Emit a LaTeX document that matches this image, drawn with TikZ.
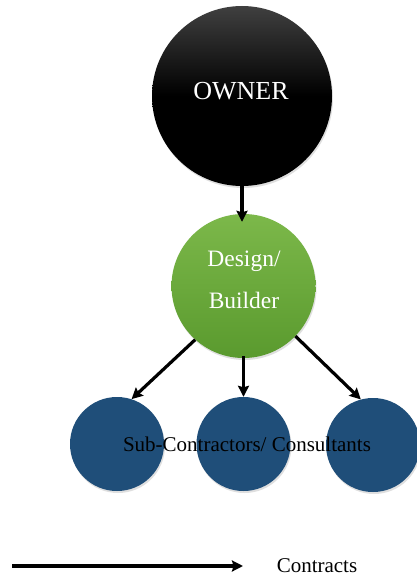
\documentclass[tikz,border=0pt]{standalone}
\usepackage{fontspec}
\setmainfont{Liberation Serif}
\usetikzlibrary{arrows.meta,shadows}
\definecolor{greentop}{HTML}{7CB84A}
\definecolor{greenbot}{HTML}{5A9A2E}
\definecolor{bluec}{HTML}{1F4E79}
\tikzset{
  circ/.style={circle, inner sep=0pt, minimum size=#1,
    drop shadow={opacity=0.25, shadow xshift=1pt, shadow yshift=-2pt}},
  arr/.style={line width=3.2pt, -{Stealth[length=11pt,width=11pt,inset=1.5pt]}},
}
\begin{document}
\begin{tikzpicture}[x=1pt,y=-1pt]
\useasboundingbox[fill=white] (0,0) rectangle (417,578);
% circles
\node[circ=180pt, top color=black!75, bottom color=black, middle color=black] (owner) at (242,96) {};
\node[circ=144pt, top color=greentop, bottom color=greenbot] (design) at (243.5,286) {};
\node[circ=94pt, fill=bluec] (sub1) at (117,444) {};
\node[circ=94pt, fill=bluec] (sub2) at (243.5,444) {};
\node[circ=94pt, fill=bluec] (sub3) at (373,445) {};
% texts
\node[text=white, font=\fontsize{26}{30}\selectfont] (ownertxt) at (241,91) {OWNER};
\node[text=white, font=\fontsize{23.5}{42}\selectfont, align=center] (designtxt) at (244,280) {Design/\\Builder};
\node[text=black, font=\fontsize{21}{24}\selectfont] (subtxt) at (247,444) {Sub-Contractors/ Consultants};
% arrows
\draw[arr, shorten >=-8pt] (owner.south) -- (design.north -| owner.south);
\draw[arr] (design.228) -- (sub1.72);
\draw[arr, shorten <=-2pt] (design.south) -- (sub2.north);
\draw[arr] (design.316) -- (sub3.105);
% legend
\coordinate (l1) at (12,566);
\coordinate (l2) at (243,566);
\node[font=\fontsize{21}{24}\selectfont] (contracts) at (317,566) {Contracts};
\draw[arr] (l1) -- (l2);
\end{tikzpicture}
\end{document}
